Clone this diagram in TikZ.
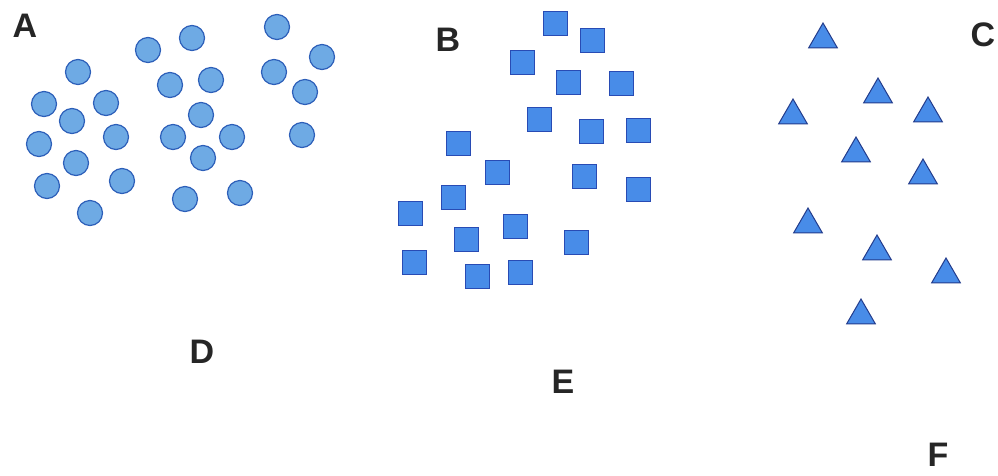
\documentclass[tikz,border=0pt]{standalone}
\usepackage{fontspec}
\setmainfont{Liberation Sans}
\usetikzlibrary{shapes.geometric}
\definecolor{circfill}{RGB}{110,170,228}
\definecolor{circdraw}{RGB}{45,95,185}
\definecolor{sqfill}{RGB}{72,140,232}
\definecolor{sqdraw}{RGB}{40,75,180}
\definecolor{trifill}{RGB}{72,140,232}
\definecolor{tridraw}{RGB}{35,60,140}
\tikzset{
  dot/.style={circle,draw=circdraw,fill=circfill,line width=1.2pt,minimum size=25pt,inner sep=0pt},
  sq/.style={rectangle,draw=sqdraw,fill=sqfill,line width=1pt,minimum size=24pt,inner sep=0pt},
  tri/.style={regular polygon,regular polygon sides=3,draw=tridraw,fill=trifill,line width=1pt,minimum size=33pt,inner sep=0pt},
  lbl/.style={inner sep=0pt,font=\fontsize{34}{40}\selectfont\bfseries,text=black!85}
}
\begin{document}
\begin{tikzpicture}[x=1pt,y=-1pt]
\useasboundingbox (0,0) rectangle (998,475);
\fill[white] (0,0) rectangle (998,475);
% labels
\node[lbl] (A) at (25,26) {A};
\node[lbl] (B) at (448,40) {B};
\node[lbl] (C) at (983,35) {C};
\node[lbl] (D) at (202,352) {D};
\node[lbl] (E) at (563,382) {E};
\node[lbl] (F) at (938,455) {F};
% circles
\foreach \x/\y [count=\i] in {277/27,322/57,192/38,148/50,78/72,274/72,211/80,170/85,305/92,44/104,106/103,201/115,72/121,116/137,173/137,232/137,302/135,39/144,203/158,76/163,47/186,122/181,185/199,240/193,90/213}
  \node[dot] (c\i) at (\x,\y) {};
% squares
\foreach \x/\y [count=\i] in {555/23,592/40,522/62,568/82,621/83,539/119,591/131,638/130,458/143,497/172,584/176,638/189,453/197,410/213,515/226,466/239,576/242,414/262,477/276,520/272}
  \node[sq] (s\i) at (\x,\y) {};
% triangles (centroid = top + 16.5)
\foreach \x/\y [count=\i] in {823/39.5,878/94.5,793/115.5,928/113.5,856/153.5,923/175.5,808/224.5,877/251.5,946/274.5,861/315.5}
  \node[tri] (t\i) at (\x,\y) {};
\end{tikzpicture}
\end{document}
